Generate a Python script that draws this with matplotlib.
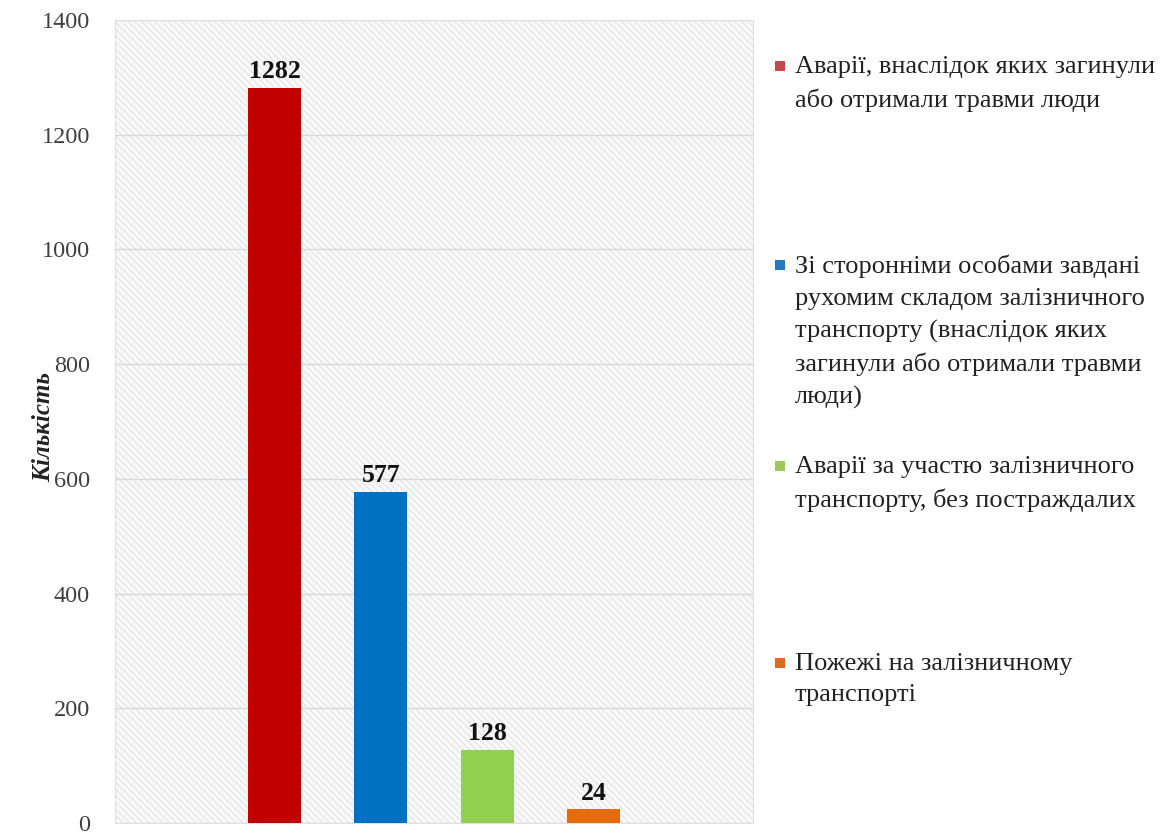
import matplotlib
matplotlib.use("Agg")
import matplotlib.pyplot as plt
from matplotlib.patches import Rectangle

categories = [
    "Аварії, внаслідок яких загинули\nабо отримали травми люди",
    "Зі сторонніми особами завдані\nрухомим складом залізничного\nтранспорту (внаслідок яких\nзагинули або отримали травми\nлюди)",
    "Аварії за участю залізничного\nтранспорту, без постраждалих",
    "Пожежі на залізничному\nтранспорті",
]
values = [1282, 577, 128, 24]
colors = ["#C00000", "#0070C0", "#92D050", "#E46C0A"]
legend_colors = ["#C8474D", "#2479BF", "#9CC95A", "#E4691C"]
yticks = [0, 200, 400, 600, 800, 1000, 1200, 1400]
ylabel = "Кількість"

plt.rcParams['font.family'] = ['Liberation Serif', 'DejaVu Serif']
plt.rcParams['hatch.linewidth'] = 0.6

fig = plt.figure(figsize=(11.65, 8.36), dpi=100)
ax = fig.add_axes([115/1165, 1-823/836, (753-115)/1165, (823-20)/836])

ax.add_patch(Rectangle((0, 0), 1, 1, transform=ax.transAxes, facecolor='#f9f9f9',
                       edgecolor='#dcdcdc', linewidth=0, hatch='\\\\\\\\\\', zorder=0))
ax.set_facecolor('white')

x = list(range(len(values)))
ax.bar(x, values, width=0.5, color=colors, zorder=3)
for xi, v in zip(x, values):
    ax.text(xi, v + 8, str(v), ha='center', va='bottom', fontsize=18.5,
            fontweight='bold', color='#111111', zorder=4)

ax.set_xlim(-1.5, 4.5)
ax.set_ylim(0, 1400)
ax.set_yticks(yticks)
ax.set_yticklabels([str(t) for t in yticks], fontsize=17.5, color='#404040')
ax.set_xticks([])
ax.tick_params(axis='y', length=0, pad=18)
ax.yaxis.grid(True, color='#d9d9d9', linewidth=1.0, zorder=1)
ax.set_axisbelow(True)
for s in ax.spines.values():
    s.set_color('#e0e0e0')
    s.set_linewidth(0.8)

fig.text(44/1165, 1-427/836, ylabel, rotation=90, ha='center', va='center',
         fontsize=18, fontweight='bold', fontstyle='italic', color='#222222')

tops = [66, 265, 466, 663]
for top, lab, c in zip(tops, categories, legend_colors):
    fig.patches.append(Rectangle((775/1165, 1-(top+5)/836), 10/1165, 10/836,
                                 transform=fig.transFigure, facecolor=c,
                                 edgecolor='none'))
    fig.text(795/1165, 1-(top-10)/836, lab, ha='left', va='top', fontsize=19,
             color='#222222', linespacing=1.55)

fig.savefig("out.png", dpi=100)
